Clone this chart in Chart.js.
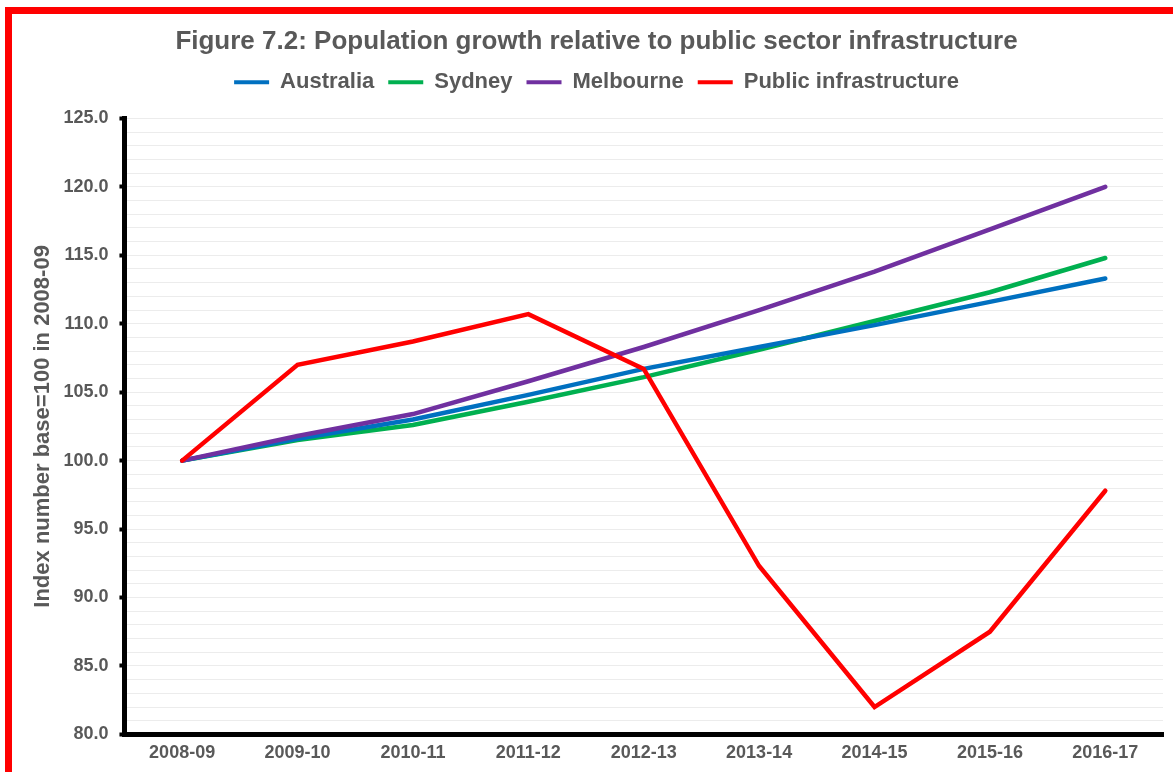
<!DOCTYPE html>
<html>
<head>
<meta charset="utf-8">
<script src="https://cdn.jsdelivr.net/npm/chart.js@4/dist/chart.umd.min.js"></script>
<style>
  html, body { margin: 0; padding: 0; background: #fff; }
  #wrap { position: absolute; left: 0; top: 0; width: 1173px; height: 772px; }
  #frame { position: absolute; left: 5px; top: 7px; right: 0; bottom: 0; border-top: 7px solid #ff0000; border-left: 7px solid #ff0000; pointer-events: none; }
</style>
</head>
<body>
<div id="wrap"><canvas id="c" width="1173" height="772"></canvas></div>
<div id="frame"></div>
<script>
const categories = ["2008-09","2009-10","2010-11","2011-12","2012-13","2013-14","2014-15","2015-16","2016-17"];
const australia = [100.0, 101.6, 103.0, 104.8, 106.7, 108.3, 109.9, 111.6, 113.3];
const sydney    = [100.0, 101.5, 102.6, 104.3, 106.1, 108.1, 110.2, 112.3, 114.8];
const melbourne = [100.0, 101.8, 103.4, 105.8, 108.3, 111.0, 113.8, 116.9, 120.0];
const publicInfra = [100.0, 107.0, 108.7, 110.7, 106.7, 92.3, 82.0, 87.5, 97.8];
const seriesNames = ["Australia","Sydney","Melbourne","Public infrastructure"];
const seriesColors = ["#0070C0","#00B050","#7030A0","#FF0000"];
const titleText = "Figure 7.2: Population growth relative to public sector infrastructure";
const yTitle = "Index number base=100 in 2008-09";

const grey = "#595959";
const FONT = "'Liberation Sans', Arial, sans-serif";
const seriesData = [australia, sydney, melbourne, publicInfra];
const drawOrder = [2, 3, 1, 0];

new Chart(document.getElementById('c'), {
  type: 'line',
  data: {
    labels: categories,
    datasets: seriesNames.map((n, i) => ({
      label: n,
      data: seriesData[i],
      borderColor: seriesColors[i],
      backgroundColor: seriesColors[i],
      borderWidth: 4.5,
      pointRadius: 0,
      tension: 0,
      fill: false,
      borderCapStyle: 'round',
      order: drawOrder[i]
    }))
  },
  options: {
    responsive: false,
    animation: false,
    layout: { padding: { left: 30, right: 10, top: 20, bottom: 0 } },
    plugins: {
      title: {
        display: true,
        text: titleText,
        color: grey,
        font: { family: FONT, size: 26, weight: 'bold' },
        padding: { top: 6, bottom: 0 }
      },
      subtitle: {
        display: true,
        text: ' ',
        weight: 500,
        font: { size: 1 },
        padding: { top: 0, bottom: 14 }
      },
      legend: {
        display: true,
        position: 'top',
        labels: {
          color: grey,
          font: { family: FONT, size: 22, weight: 'bold' },
          boxWidth: 35,
          boxHeight: 4,
          padding: 14,
          generateLabels: (chart) => chart.data.datasets.map((ds, i) => ({
            text: ds.label,
            fillStyle: ds.borderColor,
            strokeStyle: ds.borderColor,
            lineWidth: 0,
            datasetIndex: i,
            hidden: false,
            fontColor: grey
          }))
        }
      },
      tooltip: { enabled: false }
    },
    scales: {
      x: {
        offset: true,
        grid: { display: true, drawOnChartArea: false, drawTicks: false },
        border: { display: true, color: '#000', width: 5 },
        ticks: { color: grey, font: { family: FONT, size: 18, weight: 'bold' }, padding: 8, maxRotation: 0 }
      },
      y: {
        min: 80,
        max: 125,
        ticks: {
          stepSize: 1,
          autoSkip: false,
          color: grey,
          font: { family: FONT, size: 18, weight: 'bold' },
          padding: 11,
          callback: (v) => (v % 5 === 0 ? Number(v).toFixed(1) : '')
        },
        grid: {
          color: '#ececec',
          lineWidth: 1,
          tickLength: 5,
          tickColor: (ctx) => (ctx.tick && ctx.tick.value % 5 === 0 ? '#000' : 'rgba(0,0,0,0)'),
          tickWidth: 4
        },
        border: { display: true, color: '#000', width: 5 },
        title: {
          display: true,
          text: yTitle,
          color: grey,
          font: { family: FONT, size: 22, weight: 'bold' },
          padding: { top: 0, bottom: -4 }
        }
      }
    }
  }
});
</script>
</body>
</html>
